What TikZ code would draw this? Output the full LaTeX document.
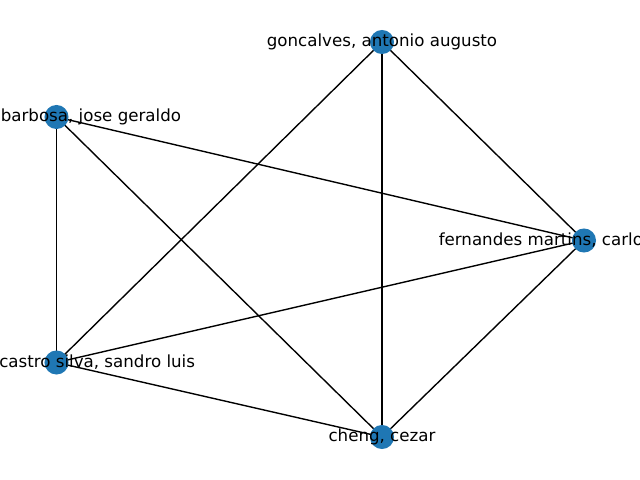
\documentclass[tikz,border=0pt]{standalone}
\usepackage{fontspec}
\setmainfont{DejaVu Sans}
\definecolor{nodeblue}{RGB}{31,119,180}
\begin{document}
\begin{tikzpicture}[x=0.72pt,y=-0.72pt,
  edge/.style={draw=black,line width=1pt},
  dot/.style={circle,fill=nodeblue,draw=none,minimum size=17.3pt,inner sep=0pt},
  lbl/.style={inner sep=0pt,font=\fontsize{12}{14}\selectfont,text=black}]
\useasboundingbox (0,0) rectangle (640,480);
\clip (0,0) rectangle (640,480);
\coordinate (g) at (382,42);
\coordinate (b) at (56.5,117);
\coordinate (f) at (584,240.5);
\coordinate (c) at (56.5,362.5);
\coordinate (z) at (382,437);
\draw[edge] (g) -- (c);
\draw[edge] (g) -- (z);
\draw[edge] (g) -- (f);
\draw[edge] (b) -- (c);
\draw[edge] (b) -- (z);
\draw[edge] (b) -- (f);
\draw[edge] (f) -- (c);
\draw[edge] (f) -- (z);
\draw[edge] (c) -- (z);
\foreach \n in {g,b,f,c,z} \node[dot] (d\n) at (\n) {};
\node[lbl,anchor=center] (tg) at (g) {goncalves, antonio augusto};
\node[lbl,anchor=west] (tb) at (0.5,117) {barbosa, jose geraldo};
\node[lbl,anchor=west] (tf) at (438.5,240.5) {fernandes martins, carlo};
\node[lbl,anchor=west] (tc) at (-1,362.5) {castro silva, sandro luis};
\node[lbl,anchor=center] (tz) at (z) {cheng, cezar};
\end{tikzpicture}
\end{document}
